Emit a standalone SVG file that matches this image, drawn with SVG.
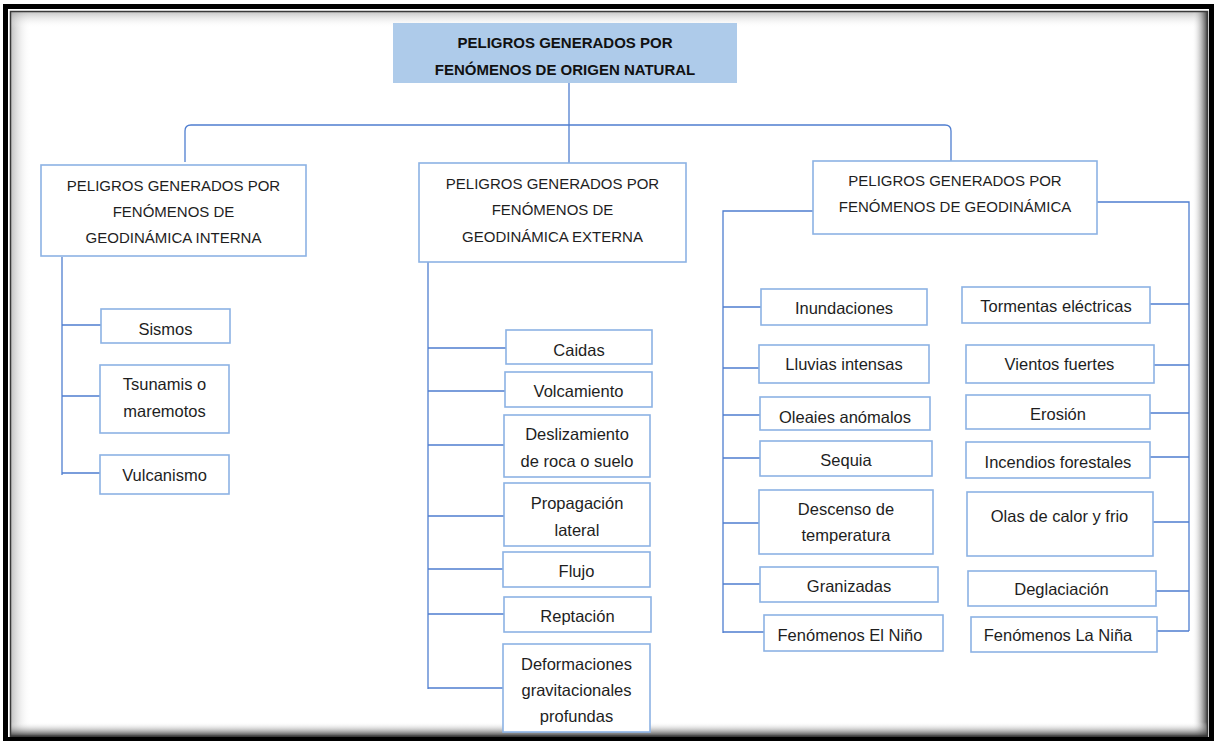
<svg xmlns="http://www.w3.org/2000/svg" width="1214" height="741" viewBox="0 0 1214 741">
  <defs>
    <linearGradient id="shadeL" x1="0" y1="0" x2="1" y2="0">
      <stop offset="0" stop-color="#9a9a9a" stop-opacity="0.6"/>
      <stop offset="1" stop-color="#ffffff" stop-opacity="0"/>
    </linearGradient>
    <linearGradient id="shadeT" x1="0" y1="0" x2="0" y2="1">
      <stop offset="0" stop-color="#9a9a9a" stop-opacity="0.55"/>
      <stop offset="1" stop-color="#ffffff" stop-opacity="0"/>
    </linearGradient>
    <linearGradient id="shadeR" x1="0" y1="0" x2="1" y2="0">
      <stop offset="0" stop-color="#ffffff" stop-opacity="0"/>
      <stop offset="1" stop-color="#2a2a2a" stop-opacity="0.95"/>
    </linearGradient>
    <linearGradient id="shadeB" x1="0" y1="0" x2="0" y2="1">
      <stop offset="0" stop-color="#ffffff" stop-opacity="0"/>
      <stop offset="1" stop-color="#333333" stop-opacity="0.9"/>
    </linearGradient>
  </defs>
  <style>
    .box { fill: #ffffff; stroke: #8cb2e4; stroke-width: 1.6; }
    .title { fill: #aecbea; stroke: none; }
    .link { fill: none; stroke: #4f7ed0; stroke-width: 1.3; }
    text { font-family: "Liberation Sans", Arial, sans-serif; fill: #1e1e1e; text-anchor: middle; }
    .hd { font-size: 15px; }
    .tt { font-size: 15px; font-weight: bold; fill: #111; }
    .it { font-size: 16.5px; }
  </style>

  <!-- page with framed border -->
  <rect x="0" y="0" width="1214" height="741" fill="#ffffff"/>
  <rect x="11" y="12" width="20" height="724" fill="url(#shadeL)"/>
  <rect x="11" y="12" width="1196" height="16" fill="url(#shadeT)"/>
  <rect x="1192" y="12" width="16" height="724" fill="url(#shadeR)"/>
  <rect x="11" y="722" width="1196" height="14" fill="url(#shadeB)"/>
  <rect x="10.5" y="11.5" width="1197" height="725" fill="none" stroke="#3a3a3a" stroke-width="1.5"/>
  <rect x="5.5" y="6.5" width="1206" height="733" fill="none" stroke="#000000" stroke-width="5"/>

  <!-- connectors -->
  <g id="connectors">
    <path class="link" d="M569,83 V163"/>
    <path class="link" d="M185,162 V131 Q185,125 191,125 H945 Q951,125 951,131 V161"/>
    <!-- geodinámica interna -->
    <path class="link" d="M62,257 V475"/>
    <path class="link" d="M62,325 H101 M62,396 H100 M62,473 H100"/>
    <!-- geodinámica externa -->
    <path class="link" d="M428,262 V689"/>
    <path class="link" d="M428,348 H507 M428,391 H506 M428,445 H505 M428,516 H505 M428,569 H504 M428,614 H505 M428,688 H504"/>
    <!-- geodinámica: left branch -->
    <path class="link" d="M813,211 H723 V633"/>
    <path class="link" d="M723,307 H761 M723,368 H759 M723,415 H760 M723,458 H760 M723,523 H759 M723,584 H760 M723,632 H764"/>
    <!-- geodinámica: right branch -->
    <path class="link" d="M1097,202 H1189 V631"/>
    <path class="link" d="M1150,304 H1189 M1154,365 H1189 M1150,413 H1189 M1150,457 H1189 M1153,522 H1189 M1156,591 H1189 M1157,631 H1189"/>
  </g>

  <!-- root -->
  <g id="root">
    <rect class="title" x="393" y="23" width="344" height="60"/>
    <text class="tt" x="565" y="47.5">PELIGROS GENERADOS POR</text>
    <text class="tt" x="565" y="74.5">FENÓMENOS DE ORIGEN NATURAL</text>
  </g>

  <!-- category nodes -->
  <g id="interna">
    <rect class="box" x="41" y="165" width="265" height="91"/>
    <text class="hd" x="173.5" y="190.5">PELIGROS GENERADOS POR</text>
    <text class="hd" x="173.5" y="216.5">FENÓMENOS DE</text>
    <text class="hd" x="173.5" y="242.5">GEODINÁMICA INTERNA</text>
  </g>
  <g id="externa">
    <rect class="box" x="419" y="163" width="267" height="99"/>
    <text class="hd" x="552.5" y="188.5">PELIGROS GENERADOS POR</text>
    <text class="hd" x="552.5" y="214.5">FENÓMENOS DE</text>
    <text class="hd" x="552.5" y="241.5">GEODINÁMICA EXTERNA</text>
  </g>
  <g id="geodinamica">
    <rect class="box" x="813" y="161" width="284" height="73"/>
    <text class="hd" x="955" y="185.5">PELIGROS GENERADOS POR</text>
    <text class="hd" x="955" y="211.5">FENÓMENOS DE GEODINÁMICA</text>
  </g>

  <!-- geodinámica interna items -->
  <g id="sismos"><rect class="box" x="101" y="309" width="129" height="34"/><text class="it" x="165.5" y="335">Sismos</text></g>
  <g id="tsunamis"><rect class="box" x="100" y="365" width="129" height="68"/><text class="it" x="164.5" y="390">Tsunamis o</text><text class="it" x="164.5" y="417">maremotos</text></g>
  <g id="vulcanismo"><rect class="box" x="100" y="455" width="129" height="39"/><text class="it" x="164.5" y="481">Vulcanismo</text></g>

  <!-- geodinámica externa items -->
  <g id="caidas"><rect class="box" x="506" y="330" width="146" height="34"/><text class="it" x="579" y="356">Caidas</text></g>
  <g id="volcamiento"><rect class="box" x="505" y="372" width="147" height="35"/><text class="it" x="578.5" y="397">Volcamiento</text></g>
  <g id="deslizamiento"><rect class="box" x="504" y="415" width="146" height="62"/><text class="it" x="577" y="440">Deslizamiento</text><text class="it" x="577" y="467">de roca o suelo</text></g>
  <g id="propagacion"><rect class="box" x="504" y="483" width="146" height="63"/><text class="it" x="577" y="509">Propagación</text><text class="it" x="577" y="536">lateral</text></g>
  <g id="flujo"><rect class="box" x="503" y="552" width="147" height="35"/><text class="it" x="576.5" y="577">Flujo</text></g>
  <g id="reptacion"><rect class="box" x="504" y="597" width="147" height="35"/><text class="it" x="577.5" y="622">Reptación</text></g>
  <g id="deformaciones"><rect class="box" x="503" y="644" width="147" height="88"/><text class="it" x="576.5" y="670">Deformaciones</text><text class="it" x="576.5" y="696">gravitacionales</text><text class="it" x="576.5" y="722">profundas</text></g>

  <!-- geodinámica items, left column -->
  <g id="inundaciones"><rect class="box" x="761" y="289" width="166" height="36"/><text class="it" x="844" y="314">Inundaciones</text></g>
  <g id="lluvias"><rect class="box" x="759" y="345" width="170" height="38"/><text class="it" x="844" y="369.5">Lluvias intensas</text></g>
  <g id="oleajes"><rect class="box" x="760" y="397" width="170" height="33"/><text class="it" x="845" y="422.5">Oleaies anómalos</text></g>
  <g id="sequia"><rect class="box" x="760" y="441" width="172" height="35"/><text class="it" x="846" y="466">Sequia</text></g>
  <g id="descenso"><rect class="box" x="759" y="490" width="174" height="64"/><text class="it" x="846" y="514.5">Descenso de</text><text class="it" x="846" y="541">temperatura</text></g>
  <g id="granizadas"><rect class="box" x="760" y="567" width="178" height="35"/><text class="it" x="849" y="591.5">Granizadas</text></g>
  <g id="elnino"><rect class="box" x="764" y="615" width="179" height="36"/><text class="it" x="850" y="640.5">Fenómenos El Niño</text></g>

  <!-- geodinámica items, right column -->
  <g id="tormentas"><rect class="box" x="962" y="287" width="188" height="36"/><text class="it" x="1056" y="312">Tormentas eléctricas</text></g>
  <g id="vientos"><rect class="box" x="966" y="345" width="188" height="38"/><text class="it" x="1059.5" y="370">Vientos fuertes</text></g>
  <g id="erosion"><rect class="box" x="966" y="395" width="184" height="34"/><text class="it" x="1058" y="420">Erosión</text></g>
  <g id="incendios"><rect class="box" x="966" y="442" width="184" height="36"/><text class="it" x="1058" y="468">Incendios forestales</text></g>
  <g id="olas"><rect class="box" x="967" y="492" width="186" height="64"/><text class="it" x="1059.5" y="522">Olas de calor y frio</text></g>
  <g id="deglaciacion"><rect class="box" x="968" y="571" width="188" height="35"/><text class="it" x="1061.5" y="595">Deglaciación</text></g>
  <g id="lanina"><rect class="box" x="971" y="617" width="186" height="35"/><text class="it" x="1058" y="641">Fenómenos La Niña</text></g>
</svg>
